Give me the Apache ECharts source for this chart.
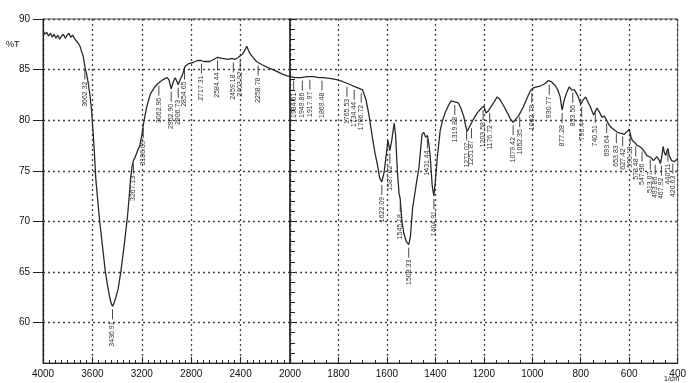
<!DOCTYPE html>
<html><head><meta charset="utf-8">
<script src="https://cdn.jsdelivr.net/npm/echarts@6/dist/echarts.min.js"></script>
<style>html,body{margin:0;padding:0;background:#fff}#c{width:689px;height:383px}</style>
</head><body><div id="c"></div>
<script>
// ---- data: 4000–2000 cm-1 (compressed scale) ----
const leftWn = [4000,3985,3970,3955,3940,3925,3910,3895,3880,3865,3850,3835,3820,3805,3790,3775,3760,3741,3728,3714,3700,3688,3674,3661,3648,3634,3620,3608,3595,3584,3573,3557,3541,3518,3495,3475,3460,3448,3437,3425,3410,3392,3370,3343,3325,3312,3300,3290,3278,3268,3255,3240,3216,3200,3188,3175,3162,3145,3130,3100,3080,3062,3030,2995,2980,2962,2945,2930,2918,2905,2890,2870,2850,2820,2784,2750,2720,2700,2650,2620,2587,2550,2500,2470,2446,2420,2405,2380,2362,2350,2340,2325,2300,2272,2230,2178,2120,2070,2030,2000];
const leftT  = [88.8,88.5,88.7,88.3,88.6,88.2,88.5,88.1,88.4,88.0,88.3,88.5,88.1,88.4,88.6,88.2,88.4,88.0,88.1,87.6,87.3,86.8,86.3,85.3,84.6,83.7,82.5,81.1,78.9,76.8,74.3,72.1,70.0,67.5,65.0,63.5,62.5,61.9,61.6,61.9,62.5,63.3,65.0,67.6,69.5,71.0,72.8,74.3,75.5,76.0,76.3,76.8,77.5,78.5,79.5,80.4,81.2,82.0,82.6,83.2,83.5,83.7,84.0,84.2,84.0,83.1,83.8,84.2,83.9,83.5,84.0,84.5,85.3,85.6,85.7,85.9,85.9,85.8,85.8,86.0,86.2,86.1,86.0,86.1,86.0,86.2,86.3,86.6,87.0,87.3,87.0,86.6,86.2,85.8,85.5,85.2,84.9,84.6,84.4,84.3];
// ---- data: 2000–400 cm-1 (expanded scale) ----
const rightWn = [2000,1980,1956,1930,1902,1880,1862,1830,1808,1781,1760,1741,1720,1701,1687,1674,1660,1648,1640,1630,1621,1612,1604,1596,1588,1580,1570,1564,1557,1550,1545,1538,1530,1520,1510,1503,1494,1480,1468,1455,1448,1440,1433,1426,1421,1413,1406,1400,1392,1380,1370,1360,1345,1335,1320,1305,1295,1282,1275,1268,1258,1245,1228,1213,1200,1191,1182,1175,1160,1145,1135,1120,1100,1090,1079,1068,1057,1037,1025,1008,995,981,965,948,935,921,905,895,885,877,868,857,847,838,826,812,800,790,780,770,760,747,733,723,713,703,693,685,675,660,648,633,620,613,600,592,587,577,567,557,547,537,527,517,507,500,493,486,480,475,471,465,460,455,449,444,440,435,425,413,405,400];
const rightT  = [84.3,84.2,84.2,84.3,84.3,84.2,84.2,84.1,84.0,83.8,83.6,83.4,83.2,83.0,82.1,80.5,78.3,76.6,75.7,74.3,73.9,74.8,76.3,78.0,77.0,78.0,79.7,78.5,75.0,72.8,72.2,70.0,68.8,68.0,67.7,68.5,71.3,73.5,75.3,78.6,78.8,78.3,78.5,77.5,76.3,73.5,72.5,74.0,76.3,79.0,80.0,80.7,81.5,81.9,81.8,81.7,81.2,80.3,79.4,78.9,79.4,80.0,80.7,81.1,81.4,80.7,80.9,81.0,81.7,82.3,82.1,81.5,80.6,80.1,79.8,80.1,80.4,81.3,82.0,82.9,83.2,83.3,83.4,83.6,83.9,83.8,83.4,83.0,82.3,81.0,82.0,82.8,83.3,83.0,83.0,82.4,81.6,82.0,82.3,81.8,81.3,80.5,81.2,80.8,80.3,80.4,80.0,79.6,79.3,79.0,78.8,78.7,78.6,78.7,79.1,78.3,78.0,77.8,77.5,77.4,77.2,76.9,76.5,76.4,76.2,76.0,75.9,76.4,76.5,76.0,75.7,76.5,77.4,76.8,76.5,77.0,77.2,76.5,76.0,75.9,76.1,76.2];
// ---- peak annotations ----
const leftPeakWn = [3661,3437,3268,3188,3062,2962,2905,2854,2717,2587,2459,2403,2258];
const leftPeakT  = [85.3,61.6,76.0,79.5,83.7,83.1,83.5,85.3,85.9,86.2,86.0,86.3,85.7];
const leftPeakText = ['3662.32','3436.91','3267.13','3186.69','3062.96','2962.90','2906.73','2854.65','2717.31','2584.44','2459.18','2403.92','2258.78'];
const rightPeakWn = [1985,1949,1918,1868,1765,1735,1706,1621,1588,1545,1510,1433,1406,1320,1271,1251,1203,1176,1079,1052,1002,930,877,833,796,740,693,653,627,596,573,547,513,493,467,440,420];
const rightPeakT  = [84.2,84.2,84.3,84.2,83.6,83.3,83.0,73.9,77.0,72.2,67.7,78.5,72.5,81.8,79.3,79.5,81.3,81.0,79.8,80.6,83.0,83.8,81.0,83.0,81.6,81.0,80.0,79.0,78.7,78.9,77.7,77.2,76.4,75.9,75.8,77.2,76.0];
const rightPeakText = ['1984.61','1949.86','1917.97','1869.48','1765.53','1734.44','1706.72','1622.09','1587.62','1545.18','1508.33','1431.44','1404.91','1319.88','1271.07','1251.87','1203.58','1176.72','1079.42','1052.35','1002.78','930.77','877.28','833.56','796.44','740.51','693.64','653.83','627.42','596.18','573.48','547.36','513.07','493.86','467.92','440.11','420.63'];
const yMajor = [60,65,70,75,80,85,90];

const pairs = (w, t) => w.map((x, i) => [x, t[i]]);
const ink = '#222';
const dotted = {show:true, lineStyle:{type:[2,3], color:'#444', width:1.3}};
const labelFont = 'Liberation Sans Narrow, Liberation Sans, Arial, sans-serif';
const axisFont = 'Liberation Sans, Arial, sans-serif';

function peakRenderer(texts){
  return function(params, api){
    const p = api.coord([api.value(0), api.value(1)]);
    return {type:'group', children:[
      {type:'line', shape:{x1:p[0], y1:p[1]+3, x2:p[0], y2:p[1]+13}, style:{stroke:'#333', lineWidth:0.9}},
      {type:'text', x:p[0], y:p[1]+15, rotation:Math.PI/2,
        style:{text:texts[params.dataIndex], fontSize:7, fontFamily:labelFont, fill:'#333', align:'right', verticalAlign:'middle'}}
    ]};
  };
}

const chart = echarts.init(document.getElementById('c'), null, {renderer:'canvas'});
chart.setOption({
  animation:false,
  backgroundColor:'#fff',
  grid:[
    {left:43, top:19, width:247, height:344, show:true, borderColor:'#555', borderWidth:1},
    {left:290, top:19, width:396, height:344, show:true, borderColor:'#555', borderWidth:1}
  ],
  xAxis:[
    {type:'value', gridIndex:0, min:2000, max:4000, interval:400, inverse:true,
     axisLine:{lineStyle:{color:ink, width:1.2}},
     axisTick:{inside:true, length:6, lineStyle:{color:ink}},
     minorTick:{show:true, splitNumber:8, length:3, lineStyle:{color:ink}},
     axisLabel:{fontSize:10, color:'#111', margin:6, fontFamily:axisFont, formatter:v => String(v)},
     splitLine:dotted},
    {type:'value', gridIndex:1, min:400, max:2000, interval:200, inverse:true,
     axisLine:{lineStyle:{color:ink, width:1.2}},
     axisTick:{inside:true, length:6, lineStyle:{color:ink}},
     minorTick:{show:true, splitNumber:4, length:3, lineStyle:{color:ink}},
     axisLabel:{fontSize:10, color:'#111', margin:6, fontFamily:axisFont,
       formatter:v => v === 2000 ? '' : String(v)},
     splitLine:dotted}
  ],
  yAxis:[
    {type:'value', gridIndex:0, min:56, max:90,
     axisLine:{show:true, lineStyle:{color:ink, width:1.2}},
     axisTick:{show:true, length:10, customValues:yMajor, lineStyle:{color:ink}},
     axisLabel:{customValues:yMajor, fontSize:10, color:'#111', margin:13, fontFamily:axisFont},
     splitLine:dotted},
    {type:'value', gridIndex:0, min:56, max:90, interval:1,
     axisLine:{show:false}, axisTick:{show:true, length:5, lineStyle:{color:ink}},
     axisLabel:{show:false}, splitLine:{show:false}},
    {type:'value', gridIndex:1, min:56, max:90,
     axisLine:{show:true, lineStyle:{color:'#333', width:1.6}},
     axisTick:{show:false, customValues:yMajor},
     axisLabel:{show:false},
     splitLine:dotted}
  ],
  graphic:[
    {type:'text', left:6, top:40, style:{text:'%T', fontSize:9, fill:'#111', fontFamily:axisFont}},
    {type:'text', left:664, top:376, style:{text:'1/cm', fontSize:7, fill:'#111', fontFamily:axisFont}}
  ],
  series:[
    {type:'line', xAxisIndex:0, yAxisIndex:0, data:pairs(leftWn, leftT), symbol:'none',
     lineStyle:{color:'#2a2a2a', width:1.3}},
    {type:'line', xAxisIndex:1, yAxisIndex:2, data:pairs(rightWn, rightT), symbol:'none',
     lineStyle:{color:'#2a2a2a', width:1.3}},
    {type:'custom', xAxisIndex:0, yAxisIndex:0, data:pairs(leftPeakWn, leftPeakT), renderItem:peakRenderer(leftPeakText), clip:false},
    {type:'custom', xAxisIndex:1, yAxisIndex:2, data:pairs(rightPeakWn, rightPeakT), renderItem:peakRenderer(rightPeakText), clip:false}
  ]
});
</script>
</body></html>
